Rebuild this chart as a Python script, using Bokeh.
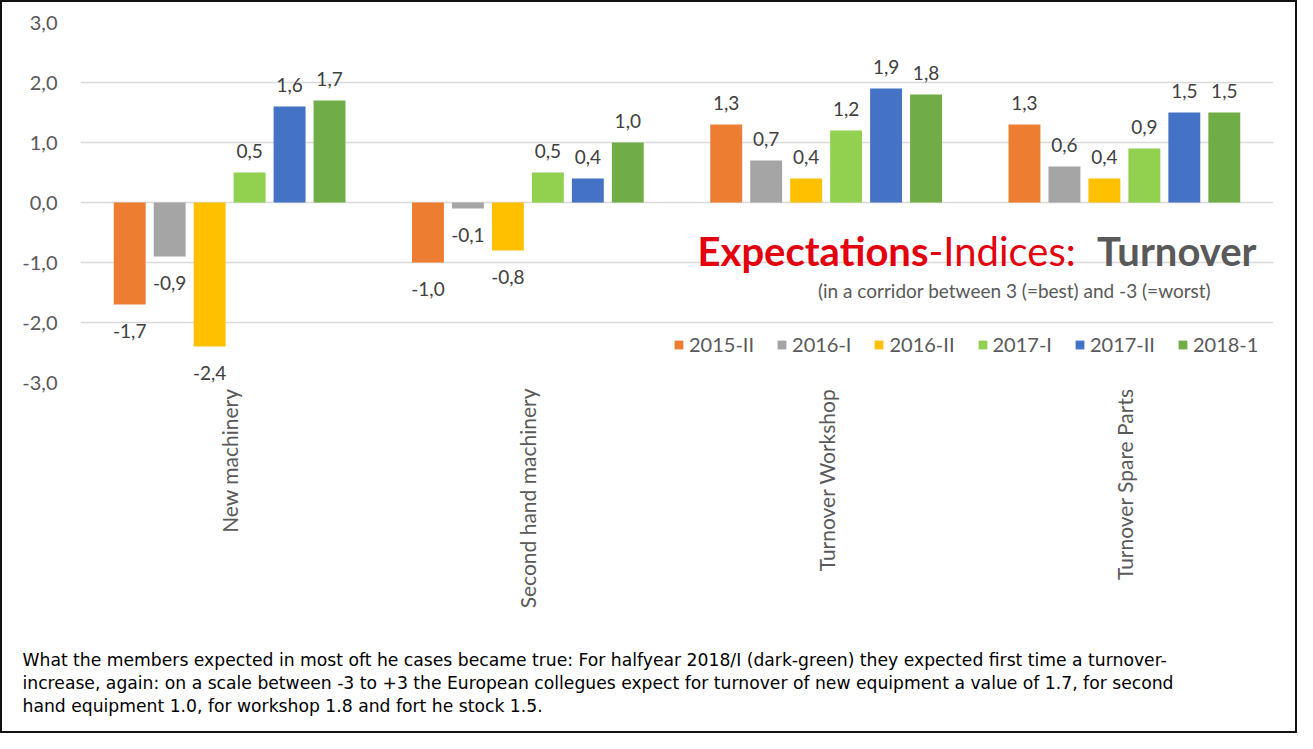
import numpy as np
from bokeh.plotting import figure
from bokeh.layouts import column
from bokeh.models import (ColumnDataSource, FixedTicker, CustomJSTickFormatter,
                          Label, LabelSet, Range1d)
from bokeh.transform import dodge
from bokeh.core.properties import value
from bokeh.embed import file_html
from bokeh.resources import INLINE

# ---------------- data ----------------
categories = ["New machinery", "Second hand machinery", "Turnover Workshop", "Turnover Spare Parts"]
series = ["2015-II", "2016-I", "2016-II", "2017-I", "2017-II", "2018-1"]
v_2015_II = [-1.7, -1.0, 1.3, 1.3]
v_2016_I = [-0.9, -0.1, 0.7, 0.6]
v_2016_II = [-2.4, -0.8, 0.4, 0.4]
v_2017_I = [0.5, 0.5, 1.2, 0.9]
v_2017_II = [1.6, 0.4, 1.9, 1.5]
v_2018_1 = [1.7, 1.0, 1.8, 1.5]
y_ticks = [-3, -2, -1, 0, 1, 2, 3]

title_bold = "Expectations"
title_mid = "-Indices: "
title_end = "Turnover"
subtitle = "(in a corridor between 3 (=best) and -3 (=worst)"
note_lines = [
    "What the members expected in most oft he cases became true: For halfyear 2018/I (dark-green) they expected first time a turnover-",
    "increase, again: on a scale between -3 to +3 the European collegues expect for turnover of new equipment a value of 1.7, for second",
    "hand equipment 1.0, for workshop 1.8 and fort he stock 1.5.",
]

values = [v_2015_II, v_2016_I, v_2016_II, v_2017_I, v_2017_II, v_2018_1]
colors = ["#ED7D31", "#A5A5A5", "#FFC000", "#92D050", "#4472C4", "#70AD47"]

# ---------------- layout ----------------
BORDER = 2
W, H = 1297 - 2 * BORDER, 733 - 2 * BORDER
ORIGIN = 8 + BORDER
H1 = 620
H2 = H - H1
FL, FR, FT = 78, 22, 20
FB = H1 - FT - 360
FW, FH = W - FL - FR, H1 - FT - FB
Y0, Y1 = -3, 3


def xd(page_x):
    return (page_x - ORIGIN - FL) / FW * len(categories)


def yd(page_y):
    return Y1 - (page_y - ORIGIN - FT) / FH * (Y1 - Y0)


FONT = "Lato"
TXT = "#595959"

p = figure(width=W, height=H1, x_range=categories, y_range=Range1d(Y0, Y1),
           output_backend="svg", toolbar_location=None,
           min_border_left=FL, min_border_right=FR, min_border_top=FT, min_border_bottom=FB)
p.frame_align = False
p.outline_line_color = None
p.background_fill_color = "white"
p.border_fill_color = "white"

src = ColumnDataSource({"cat": categories, **{f"s{i}": v for i, v in enumerate(values)}})

step, bw = 0.134, 0.107
lx, ly, lt, lo = [], [], [], []
for i, name in enumerate(series):
    off = (i - (len(series) - 1) / 2) * step
    p.vbar(x=dodge("cat", off, range=p.x_range), top=f"s{i}", bottom=0, width=bw,
           color=colors[i], line_color=None, legend_label=name, source=src)
    for j, v in enumerate(values[i]):
        lx.append(j + 0.5 + off)
        ly.append(v)
        lt.append(f"{v:.1f}".replace(".", ","))
        lo.append(15 if v >= 0 else -33)

lab_src = ColumnDataSource(dict(x=lx, y=ly, t=lt, o=lo))
p.add_layout(LabelSet(x="x", y="y", text="t", y_offset="o", source=lab_src,
                      text_align="center", text_baseline="alphabetic",
                      text_font=value(FONT), text_font_size=value("19px"),
                      text_color=value("#404040")))

# axes
p.yaxis.ticker = FixedTicker(ticks=y_ticks)
p.yaxis.formatter = CustomJSTickFormatter(code="return tick.toFixed(1).replace('.', ',');")
for ax in (p.xaxis[0], p.yaxis[0]):
    ax.axis_line_color = None
    ax.major_tick_line_color = None
    ax.minor_tick_line_color = None
    ax.major_tick_out = 0
    ax.major_tick_in = 0
    ax.major_label_text_font = FONT
    ax.major_label_text_color = TXT
p.yaxis.major_label_text_font_size = "20px"
p.xaxis.major_label_text_font_size = "21px"
p.yaxis.major_label_standoff = 23
p.xaxis.major_label_orientation = np.pi / 2
p.xaxis.major_label_standoff = 6
p.xgrid.grid_line_color = None
p.ygrid.grid_line_color = "#D9D9D9"
p.ygrid.grid_line_width = 1.5

# legend
lg = p.legend[0]
lg.orientation = "horizontal"
lg.location = (593, 26)
lg.background_fill_alpha = 0
lg.border_line_color = None
lg.padding = 0
lg.margin = 0
lg.spacing = 22
lg.glyph_width = 11
lg.glyph_height = 11
lg.label_standoff = 5
lg.label_text_font = FONT
lg.label_text_font_size = "20px"
lg.label_text_color = TXT

# inner title
TS = "40px"
split_x = 936
mid_y = yd(258)
p.add_layout(Label(x=xd(split_x), y=mid_y, text=title_bold, text_align="right",
                   text_baseline="middle", text_font=FONT, text_font_style="bold",
                   text_font_size=TS, text_color="#E3000F"))
p.add_layout(Label(x=xd(split_x), y=mid_y, text=title_mid, text_align="left",
                   text_baseline="middle", text_font=FONT,
                   text_font_size=TS, text_color="#E3000F"))
p.add_layout(Label(x=xd(1264), y=mid_y, text=title_end, text_align="right",
                   text_baseline="middle", text_font=FONT, text_font_style="bold",
                   text_font_size=TS, text_color="#595959"))
p.add_layout(Label(x=xd(1022), y=yd(298), text=subtitle, text_align="center",
                   text_baseline="middle", text_font=FONT,
                   text_font_size="19px", text_color=TXT))

# ---------------- note below the chart ----------------
top2 = ORIGIN + H1
q = figure(width=W, height=H2, x_range=Range1d(ORIGIN, ORIGIN + W),
           y_range=Range1d(top2 + H2, top2), output_backend="svg", toolbar_location=None,
           x_axis_location=None, y_axis_location=None, min_border=0)
q.frame_align = False
q.grid.grid_line_color = None
q.outline_line_color = None
q.border_fill_color = "white"
note_src = ColumnDataSource(dict(x=[30] * len(note_lines),
                                 y=[667 + 23 * k for k in range(len(note_lines))],
                                 t=note_lines))
q.text(x="x", y="y", text="t", source=note_src, text_align="left",
       text_baseline="alphabetic", text_font=value("DejaVu Sans"),
       text_font_size=value("17.2px"), text_color="#000000")

layout = column(p, q, spacing=0)
layout.styles = {"border": f"{BORDER}px solid #111", "background-color": "white"}

open("out.html", "w").write(file_html(layout, INLINE))
